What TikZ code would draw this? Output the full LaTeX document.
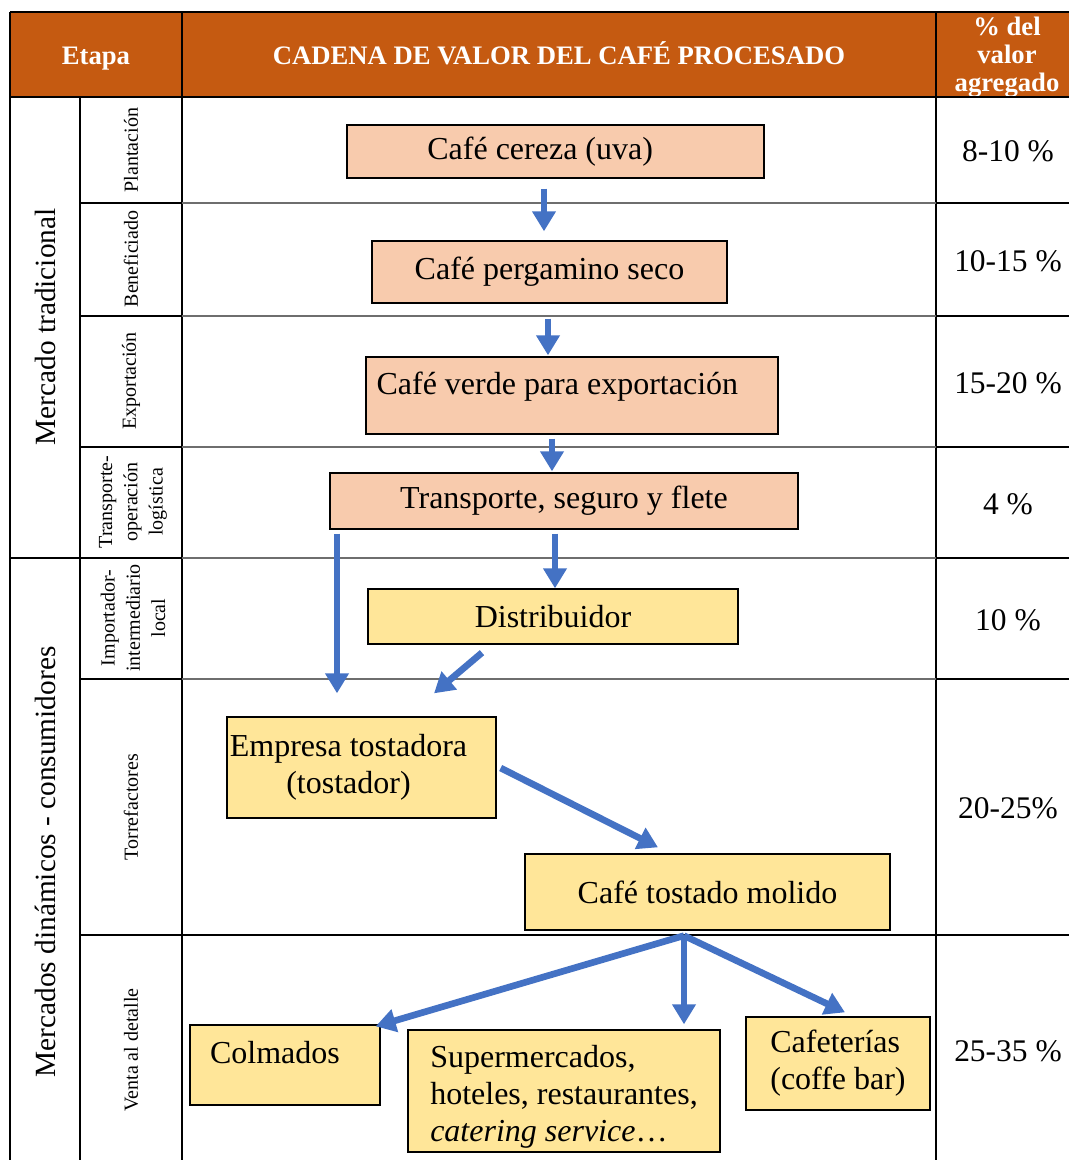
\documentclass[tikz,border=0pt]{standalone}
\usepackage{fontspec}
\setmainfont{Liberation Serif}
\usetikzlibrary{arrows.meta,positioning}

\definecolor{cabecera}{HTML}{C55A11}
\definecolor{salmon}{HTML}{F8CBAD}
\definecolor{amarillo}{HTML}{FFE699}
\definecolor{flecha}{HTML}{4472C4}
\definecolor{rejilla}{HTML}{6E6E6E}

\begin{document}
\begin{tikzpicture}[x=0.75pt,y=-0.75pt,
    caja/.style={draw=black,line width=1pt,inner sep=0pt,font=\fontsize{24}{27.75}\selectfont},
    trad/.style={caja,fill=salmon},
    dina/.style={caja,fill=amarillo},
    flujo/.style={draw=flecha,line width=5pt,-{Triangle[length=15pt,width=17pt]}},
    etapa/.style={rotate=90,align=center,inner sep=0pt,font=\fontsize{15}{19}\selectfont},
    mercado/.style={rotate=90,inner sep=0pt,font=\fontsize{22}{26}\selectfont},
    pct/.style={font=\fontsize{23.6}{27}\selectfont},
    tit/.style={text=white,align=center,inner sep=0pt,font=\bfseries\fontsize{20}{21}\selectfont}]
    \useasboundingbox (0,0) rectangle (1069,1160);

    % cabecera
    \fill[cabecera] (10,12) rectangle (1069,97);
    \node[tit] (etapa) at (96,59) {Etapa};
    \node[tit] (cadena) at (559,53) {CADENA DE VALOR DEL CAFÉ PROCESADO};
    \node[tit] (valor) at (1007,57) {\% del\\valor\\agregado};

    % rejilla
    \draw[line width=1.5pt] (10,12) -- (1069,12);
    \draw[line width=1.5pt] (10,97) -- (1069,97);
    \draw[line width=1.5pt] (10,12) -- (10,1160);
    \draw[line width=1.5pt] (80,97) -- (80,1160);
    \draw[line width=1.5pt] (182,12) -- (182,1160);
    \draw[line width=1.5pt] (936,12) -- (936,1160);
    \foreach \y in {203,316,447,558,679} {
        \draw[line width=1.5pt] (80,\y) -- (182,\y);
        \draw[rejilla,line width=0.9pt] (182,\y) -- (936,\y);
        \draw[line width=1.5pt] (936,\y) -- (1069,\y);
    }
    \draw[line width=1.5pt] (10,558) -- (80,558);
    \draw[line width=1.5pt] (80,935) -- (1069,935);

    % columna de mercados y etapas
    \node[mercado] (tradicional) at (45,327) {Mercado tradicional};
    \node[mercado] (dinamicos) at (45,862) {Mercados dinámicos - consumidores};
    \node[etapa] (plantacion) at (131,150) {Plantación};
    \node[etapa] (beneficiado) at (131,259) {Beneficiado};
    \node[etapa] (exportacion) at (131,381) {Exportación};
    \node[etapa] (logistica) at (133,502) {Transporte-\\operación\\logística};
    \node[etapa] (importador) at (133,618) {Importador-\\intermediario\\local};
    \node[etapa] (torrefactores) at (131,807) {Torrefactores};
    \node[etapa] (venta) at (131,1050) {Venta al detalle};

    % porcentajes
    \node[pct] (p1) at (1008,151) {8-10 \%};
    \node[pct] (p2) at (1008,261) {10-15 \%};
    \node[pct] (p3) at (1008,383) {15-20 \%};
    \node[pct] (p4) at (1008,504) {4 \%};
    \node[pct] (p5) at (1008,620) {10 \%};
    \node[pct] (p6) at (1008,808) {20-25\%};
    \node[pct] (p7) at (1008,1051) {25-35 \%};

    % cadena
    \node[trad,minimum width=417*0.75pt,minimum height=53*0.75pt] (cereza) at (555.5,151.5) {Café cereza (uva)\hspace*{23pt}};
    \node[trad,minimum width=355*0.75pt,minimum height=62*0.75pt] (pergamino) at (549.5,272) {Café pergamino seco};
    \node[trad,minimum width=412*0.75pt,minimum height=77*0.75pt,text depth=18pt] (verde) at (572,395.5) {Café verde para exportación\hspace*{22pt}};
    \node[trad,minimum width=468*0.75pt,minimum height=56*0.75pt] (transporte) at (564,501) {Transporte, seguro y flete};
    \node[dina,minimum width=370*0.75pt,minimum height=55*0.75pt] (distribuidor) at (553,616.5) {Distribuidor};
    \node[dina,minimum width=269*0.75pt,minimum height=101*0.75pt,align=center] (tostadora) at (361.5,767.5) {Empresa tostadora\hspace*{19.5pt}\\(tostador)\hspace*{19.5pt}};
    \node[dina,minimum width=365*0.75pt,minimum height=76*0.75pt] (molido) at (707.5,892) {Café tostado molido};
    \node[dina,minimum width=190*0.75pt,minimum height=80*0.75pt,text depth=19.5pt] (colmados) at (285,1065) {Colmados\hspace*{15pt}};
    \node[dina,minimum width=312*0.75pt,minimum height=122*0.75pt,align=left,text height=81.5pt] (super) at (564,1091) {Supermercados,\\hoteles, restaurantes,\\\textit{catering service}…};
    \node[dina,minimum width=184*0.75pt,minimum height=93*0.75pt,align=left] (cafeterias) at (838,1063.5) {Cafeterías\\(coffe bar)};

    % flechas
    \draw[flujo] ([shift={(-11.5,10)}]cereza.south) -- ([shift={(-5.5,-9)}]pergamino.north);
    \draw[flujo] ([shift={(-1.5,15)}]pergamino.south) -- ([shift={(-24,-1)}]verde.north);
    \draw[flujo] ([shift={(-20,4)}]verde.south) -- ([shift={(-12,-1)}]transporte.north);
    \draw[flujo] ([shift={(-227,4)}]transporte.south) -- ([shift={(-24.5,-23)}]tostadora.north);
    \draw[flujo] ([shift={(-9,4)}]transporte.south) -- ([shift={(2,0)}]distribuidor.north);
    \draw[flujo] ([shift={(-71,8)}]distribuidor.south) -- ([shift={(72.5,-23)}]tostadora.north);
    \draw[flujo] ([shift={(4,0.5)}]tostadora.east) -- ([shift={(-49.5,-6)}]molido.north);
    \draw[flujo] ([shift={(-23.5,5)}]molido.south) -- ([shift={(-5,2)}]colmados.north east);
    \draw[flujo] ([shift={(-23.5,5)}]molido.south) -- ([shift={(120,-5)}]super.north);
    \draw[flujo] ([shift={(-23.5,5)}]molido.south) -- ([shift={(7,-4)}]cafeterias.north);
\end{tikzpicture}
\end{document}
